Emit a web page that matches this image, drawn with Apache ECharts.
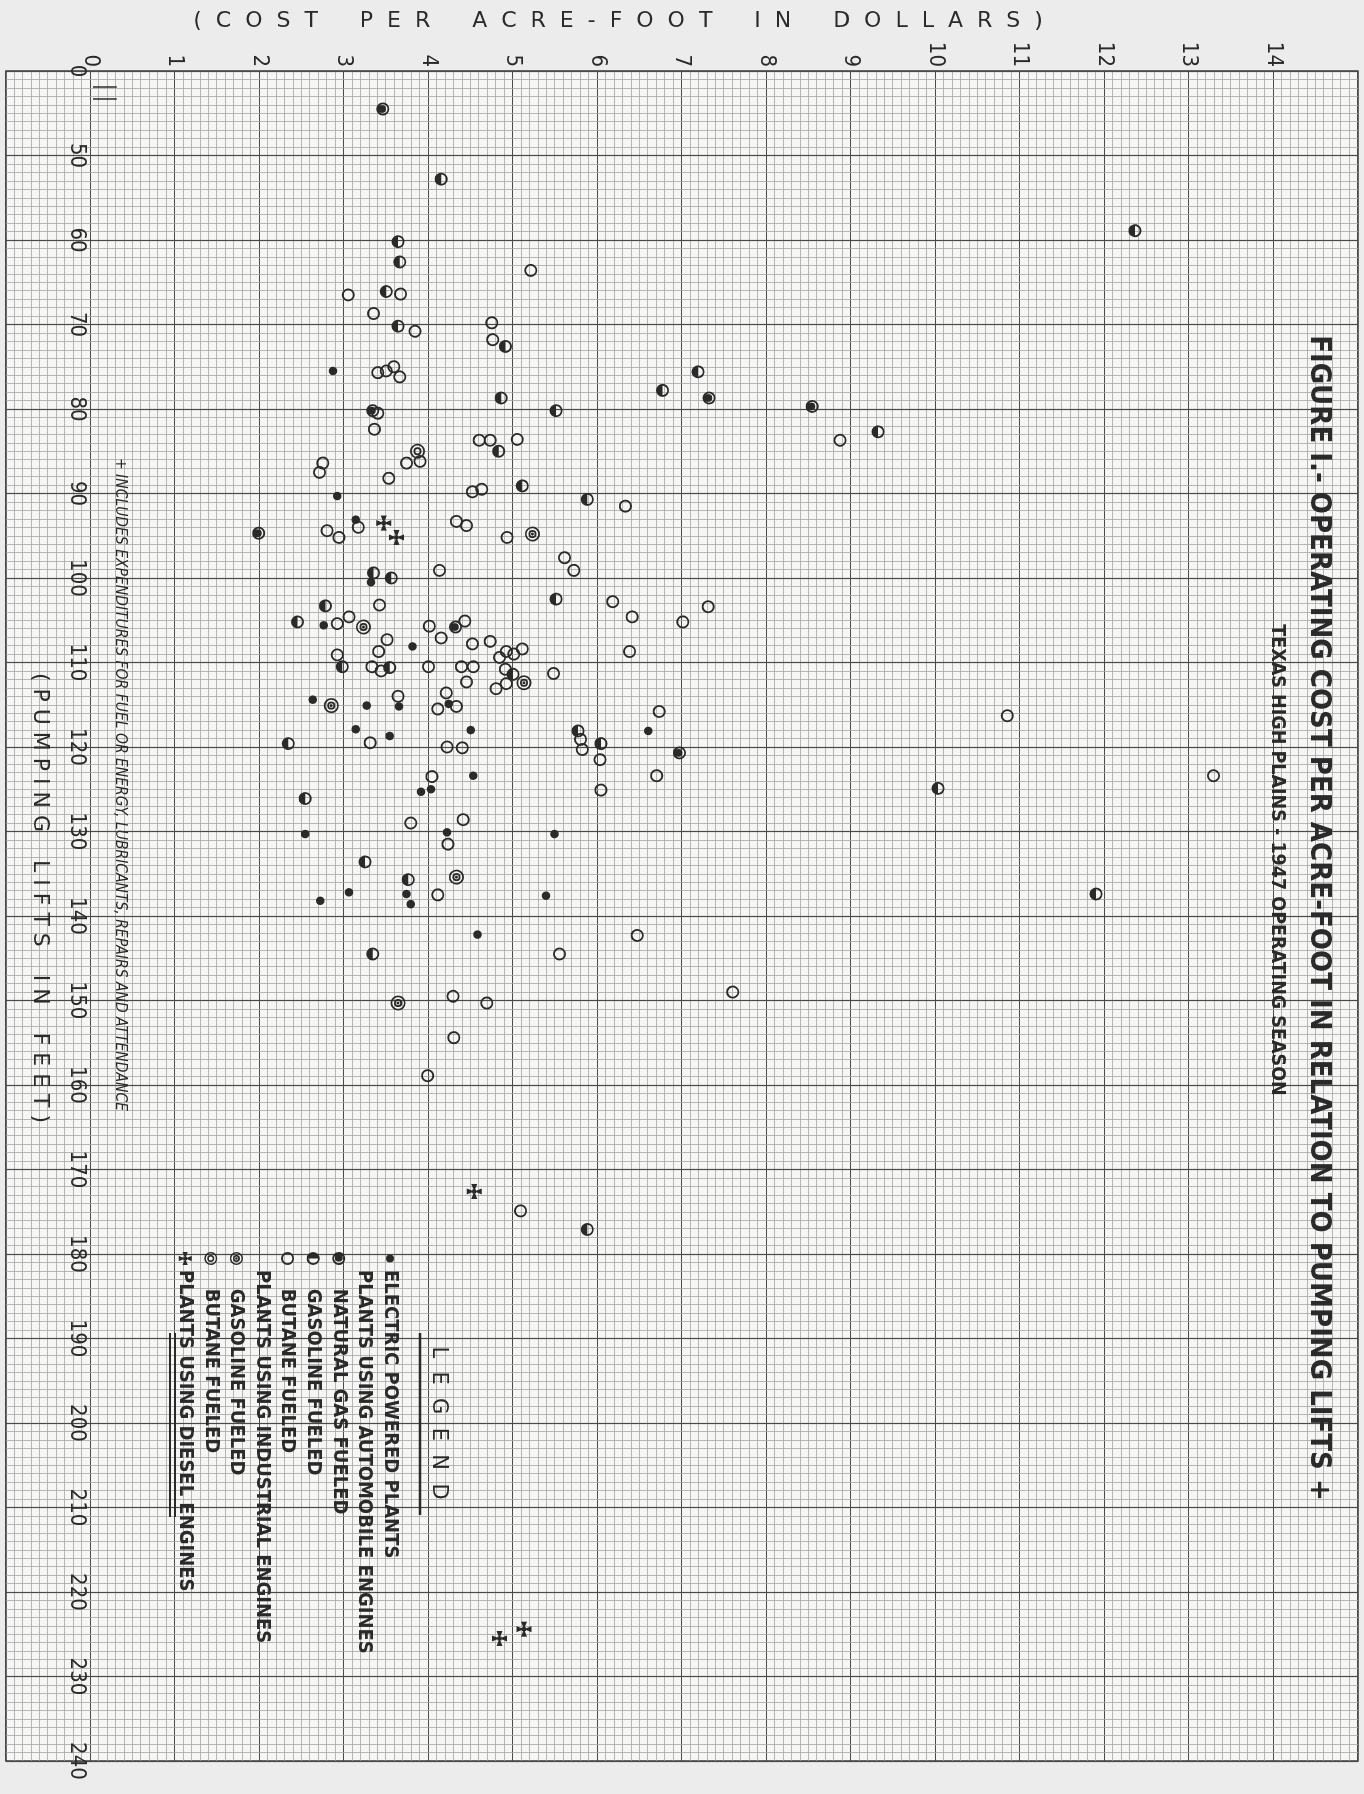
<!DOCTYPE html>
<html>
<head>
<meta charset="utf-8">
<title>Figure I - Operating cost per acre-foot in relation to pumping lifts</title>
<script src="https://cdn.jsdelivr.net/npm/echarts@6.0.0/dist/echarts.min.js"></script>
<style>
  html, body { margin: 0; padding: 0; width: 1364px; height: 1794px; overflow: hidden; background: #ececec; }
  /* the figure is drawn landscape and turned a quarter clockwise, like the printed page */
  #main { position: absolute; left: 0; top: 0; width: 1794px; height: 1364px;
          transform-origin: 0 0; transform: translate(1364px, 0) rotate(90deg); }
</style>
</head>
<body>
<div id="main"></div>
<script>
// every point is [cost per acre-foot in dollars, pumping lift in feet]
var electric = [
  [2.87, 75.5], [2.92, 90.3], [3.14, 93.1], [3.32, 100.5], [2.76, 105.6], [3.81, 108.1],
  [2.63, 114.4], [3.27, 115.1], [3.65, 115.2], [4.24, 114.9], [3.14, 117.9], [3.54, 118.7],
  [4.50, 118.0], [4.53, 123.4], [3.91, 125.3], [4.03, 125.0], [2.54, 130.3], [4.22, 130.1],
  [5.49, 130.3], [6.60, 118.1], [2.72, 138.2], [3.06, 137.2], [3.74, 137.4], [3.79, 138.6],
  [5.39, 137.6], [4.58, 142.2]
];
var naturalGas = [
  [3.46, 44.5], [3.34, 80.2], [1.99, 94.7], [7.32, 78.7], [8.54, 79.7], [6.97, 120.7], [4.32, 105.8]
];
var gasolineAuto = [
  [4.15, 52.8], [3.64, 60.2], [3.66, 62.6], [3.50, 66.1], [3.64, 70.2], [4.91, 72.6],
  [4.86, 78.7], [4.83, 85.0], [7.19, 75.6], [6.77, 77.8], [5.51, 80.2], [9.32, 82.7],
  [12.36, 58.9], [5.11, 89.1], [3.35, 99.4], [3.56, 100.0], [5.51, 102.5], [2.78, 103.3],
  [2.45, 105.2], [2.98, 110.5], [3.54, 110.6], [5.00, 111.4], [2.34, 119.6], [2.54, 126.1],
  [3.25, 133.6], [5.88, 90.7], [5.77, 118.1], [6.04, 119.6], [3.76, 135.7], [3.34, 144.5],
  [5.88, 177.1], [10.03, 124.9], [11.90, 137.4]
];
var butaneAuto = [
  [5.21, 63.6], [3.05, 66.5], [3.67, 66.4], [3.35, 68.7], [3.84, 70.8], [4.75, 69.8],
  [4.76, 71.8], [3.40, 75.7], [3.50, 75.5], [3.59, 75.0], [3.66, 76.2], [3.40, 80.5],
  [3.36, 82.4], [4.60, 83.7], [4.73, 83.7], [5.05, 83.6], [3.74, 86.4], [3.90, 86.2],
  [2.75, 86.4], [2.71, 87.5], [3.53, 88.2], [8.87, 83.7], [3.17, 94.0], [2.80, 94.4],
  [2.94, 95.2], [4.52, 89.8], [4.63, 89.5], [4.33, 93.3], [4.45, 93.8], [4.93, 95.2],
  [4.13, 99.1], [3.42, 103.2], [2.92, 105.4], [3.06, 104.6], [3.51, 107.3], [3.41, 108.7],
  [4.01, 105.7], [4.15, 107.1], [4.43, 105.1], [4.52, 107.8], [4.73, 107.5], [2.92, 109.1],
  [3.33, 110.5], [3.44, 111.0], [4.00, 110.5], [4.39, 110.5], [4.53, 110.5], [4.84, 109.4],
  [4.92, 108.7], [5.01, 109.0], [5.11, 108.4], [4.91, 110.8], [4.92, 112.5], [4.80, 113.1],
  [5.48, 111.3], [4.45, 112.3], [3.64, 114.0], [4.21, 113.6], [4.11, 115.5], [4.33, 115.2],
  [3.31, 119.5], [4.22, 120.0], [4.40, 120.1], [4.04, 123.5], [3.79, 129.0], [4.41, 128.6],
  [4.23, 131.5], [6.33, 91.5], [5.61, 97.6], [5.72, 99.1], [6.18, 102.8], [6.41, 104.6],
  [7.01, 105.2], [7.31, 103.4], [6.38, 108.7], [6.73, 115.8], [5.80, 119.1], [5.82, 120.3],
  [6.03, 121.5], [6.70, 123.4], [6.04, 125.1], [4.11, 137.5], [5.55, 144.5], [4.29, 149.5],
  [4.69, 150.3], [4.30, 154.4], [3.99, 158.9], [5.09, 174.9], [6.47, 142.3], [7.60, 149.0],
  [10.85, 116.3], [13.29, 123.4]
];
var gasolineIndustrial = [
  [5.23, 94.8], [3.23, 105.8], [5.13, 112.4], [2.85, 115.1], [4.33, 135.4], [3.64, 150.3]
];
var butaneIndustrial = [
  [3.87, 85.0]
];
var diesel = [
  [3.47, 93.5], [3.62, 95.2], [4.54, 172.6], [4.84, 225.5], [5.13, 224.4]
];

var liftTicks = { min: 40, max: 240, step: 10, breakLabel: '0' };
var costTicks = { min: -1, max: 15, step: 1, first: 0, last: 14 };

var legendLabels = {
  electric: 'ELECTRIC POWERED PLANTS',
  auto: 'PLANTS USING AUTOMOBILE ENGINES',
  natgas: '   NATURAL GAS FUELED',
  gasAuto: '   GASOLINE FUELED',
  butAuto: '   BUTANE FUELED',
  industrial: 'PLANTS USING INDUSTRIAL ENGINES',
  gasInd: '   GASOLINE FUELED',
  butInd: '   BUTANE FUELED',
  diesel: 'PLANTS USING DIESEL ENGINES'
};

var INK = '#2a2a2a';
var FONT = '"DejaVu Sans Condensed", "DejaVu Sans", sans-serif';

// marker shapes, drawn as the page shows them
var ring = 'M50,0A50,50 0 1,1 50,100A50,50 0 1,1 50,0Z M50,14A36,36 0 1,0 50,86A36,36 0 1,0 50,14Z';
var symOpen = 'path://' + ring;
var symHalf = 'path://' + ring + ' M50,14L50,86A36,36 0 0,1 50,14Z';
var symDark = 'path://' + ring + ' M44,20A30,30 0 1,1 44,80A30,30 0 1,1 44,20Z';
var dbl = 'M50,0A50,50 0 1,1 50,100A50,50 0 1,1 50,0Z M50,11A39,39 0 1,0 50,89A39,39 0 1,0 50,11Z ' +
          'M50,23A27,27 0 1,1 50,77A27,27 0 1,1 50,23Z M50,35A15,15 0 1,0 50,65A15,15 0 1,0 50,35Z';
var symDblOpen = 'path://' + dbl;
var symDblDot = 'path://' + dbl + ' M50,40A10,10 0 1,1 50,60A10,10 0 1,1 50,40Z';
var symCross = 'path://M50,50L30,0L70,0Z M50,50L100,30L100,70Z M50,50L70,100L30,100Z M50,50L0,70L0,30Z M37,37L63,37L63,63L37,63Z';
// small dot for the legend, padded so it keeps the legend box size
var legendDot = 'path://M50,20A30,30 0 1,1 50,80A30,30 0 1,1 50,20Z M0,0L0.1,0L0,0.1Z M100,100L99.9,100L100,99.9Z';

function scatter(name, pts, symbol, size) {
  return {
    name: name,
    type: 'scatter',
    data: pts.map(function (p) { return [p[1], p[0]]; }),
    symbol: symbol,
    symbolSize: size,
    symbolRotate: 90,
    itemStyle: { color: INK, opacity: 1 },
    emphasis: { disabled: true },
    z: 4
  };
}

var series = [
  scatter('electric', electric, 'circle', 8.5),
  scatter('auto', [], symOpen, 13),
  scatter('natgas', naturalGas, symDark, 13),
  scatter('gasAuto', gasolineAuto, symHalf, 13),
  scatter('butAuto', butaneAuto, symOpen, 13),
  scatter('industrial', [], symOpen, 13),
  scatter('gasInd', gasolineIndustrial, symDblDot, 15),
  scatter('butInd', butaneIndustrial, symDblOpen, 15),
  scatter('diesel', diesel, symCross, 15)
];
// axis break marks beside the zero of the lift scale
series[0].markLine = {
  silent: true, symbol: 'none', label: { show: false },
  lineStyle: { color: INK, width: 1.5, type: 'solid' },
  data: [
    [{ coord: [41.9, 0.03] }, { coord: [41.9, 0.31] }],
    [{ coord: [43.3, 0.03] }, { coord: [43.3, 0.31] }]
  ]
};

var hidden = { color: 'rgba(0,0,0,0)', borderColor: 'rgba(0,0,0,0)' };

var chart = echarts.init(document.getElementById('main'), null, { width: 1794, height: 1364 });
chart.setOption({
  animation: false,
  backgroundColor: '#ececec',
  title: [
    {
      text: 'FIGURE I.- OPERATING COST PER ACRE-FOOT IN RELATION TO PUMPING LIFTS +',
      left: 918, top: 31, textAlign: 'center', padding: 0,
      textStyle: { fontFamily: FONT, fontWeight: 'bold', fontSize: 29, color: INK }
    },
    {
      text: 'TEXAS HIGH PLAINS - 1947 OPERATING SEASON',
      left: 860, top: 77, textAlign: 'center', padding: 0,
      textStyle: { fontFamily: FONT, fontWeight: 'bold', fontSize: 19.5, color: INK }
    }
  ],
  grid: {
    left: 71, right: 33, top: 6, bottom: 6,
    outerBoundsMode: 'none',
    show: true, backgroundColor: '#f6f6f4', borderColor: '#3c3c3c', borderWidth: 1.5
  },
  legend: {
    orient: 'vertical', left: 1247, top: 958,
    itemWidth: 13, itemHeight: 13, itemGap: 3.6,
    selectedMode: false,
    formatter: function (name) { return legendLabels[name]; },
    textStyle: { fontFamily: FONT, fontWeight: 'bold', fontSize: 20, lineHeight: 22, color: INK },
    data: [
      { name: 'electric', icon: legendDot },
      { name: 'auto', itemStyle: hidden },
      { name: 'natgas' }, { name: 'gasAuto' }, { name: 'butAuto' },
      { name: 'industrial', itemStyle: hidden },
      { name: 'gasInd' }, { name: 'butInd' }, { name: 'diesel' }
    ]
  },
  xAxis: {
    type: 'value',
    min: liftTicks.min, max: liftTicks.max, interval: liftTicks.step,
    position: 'bottom',
    axisLine: { show: false },
    axisTick: { show: false },
    axisLabel: {
      inside: true, margin: 60, fontFamily: FONT, fontSize: 22, color: INK,
      formatter: function (v) { return v === liftTicks.min ? liftTicks.breakLabel : String(v); }
    },
    splitLine: { lineStyle: { color: '#4a4a4a', width: 1.2 } },
    minorTick: { show: false, splitNumber: 10 },
    minorSplitLine: { show: true, lineStyle: { color: '#a6a6a6', width: 0.8 } }
  },
  yAxis: {
    type: 'value',
    min: costTicks.min, max: costTicks.max, interval: costTicks.step,
    position: 'left',
    axisLine: { show: false, onZero: false },
    axisTick: { show: false },
    axisLabel: {
      margin: 4, fontFamily: FONT, fontSize: 22, color: INK,
      formatter: function (v) { return (v < costTicks.first || v > costTicks.last) ? '' : String(v); }
    },
    splitLine: { lineStyle: { color: '#4a4a4a', width: 1.2 } },
    minorTick: { show: false, splitNumber: 10 },
    minorSplitLine: { show: true, lineStyle: { color: '#a6a6a6', width: 0.8 } }
  },
  graphic: [
    {
      type: 'text', x: 21, y: 746, rotation: Math.PI / 2, z: 10,
      style: {
        text: '(  C  O  S  T      P  E  R      A  C  R  E  -  F  O  O  T      I  N      D  O  L  L  A  R  S  )',
        font: '22px "DejaVu Sans", sans-serif', fill: INK, align: 'center', verticalAlign: 'middle'
      }
    },
    {
      type: 'text', x: 898, y: 1324, z: 10,
      style: {
        text: '( P U M P I N G    L I F T S    I N    F E E T )',
        font: '22px "DejaVu Sans", sans-serif', fill: INK, align: 'center', verticalAlign: 'middle'
      }
    },
    {
      type: 'text', x: 458, y: 1244, z: 10,
      style: {
        text: '+ INCLUDES EXPENDITURES FOR FUEL OR ENERGY, LUBRICANTS, REPAIRS AND ATTENDANCE',
        font: 'italic 15.5px ' + FONT, fill: INK, align: 'left', verticalAlign: 'middle'
      }
    },
    {
      type: 'text', x: 1423, y: 926, z: 10,
      style: {
        text: 'L  E  G  E  N  D',
        font: '21px "DejaVu Sans", sans-serif', fill: INK, align: 'center', verticalAlign: 'middle'
      }
    },
    { type: 'line', z: 10, shape: { x1: 1333, y1: 944, x2: 1515, y2: 944 }, style: { stroke: INK, lineWidth: 2.5 } },
    { type: 'line', z: 10, shape: { x1: 1333, y1: 1189, x2: 1517, y2: 1189 }, style: { stroke: INK, lineWidth: 2 } },
    { type: 'line', z: 10, shape: { x1: 1333, y1: 1194, x2: 1517, y2: 1194 }, style: { stroke: INK, lineWidth: 2 } }
  ],
  series: series
});
</script>
</body>
</html>
